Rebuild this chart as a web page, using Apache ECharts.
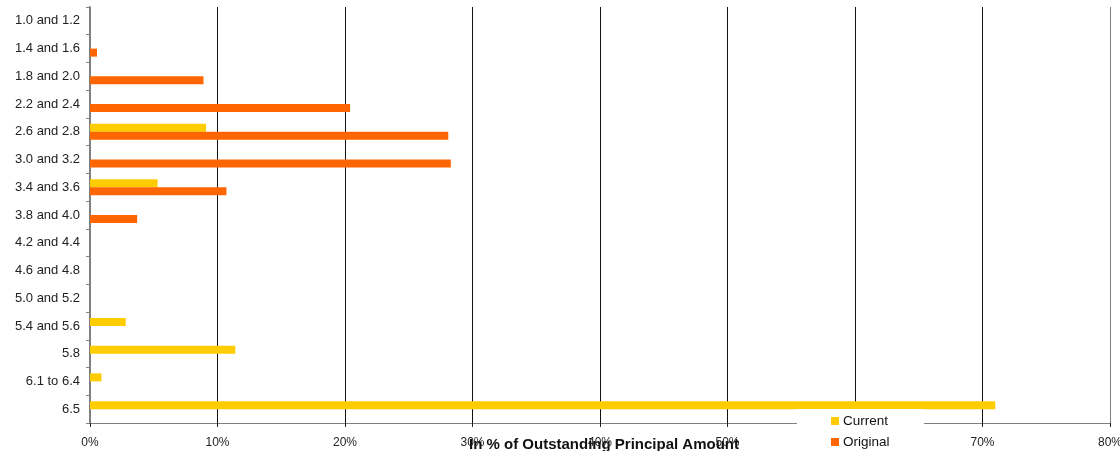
<!DOCTYPE html>
<html>
<head>
<meta charset="utf-8">
<script src="https://cdn.jsdelivr.net/npm/echarts@6/dist/echarts.min.js"></script>
<style>html,body{margin:0;padding:0;background:#fff}#c{width:1120px;height:451px}</style>
</head>
<body>
<div id="c"></div>
<script>
const categories = ['1.0 and 1.2','1.4 and 1.6','1.8 and 2.0','2.2 and 2.4','2.6 and 2.8','3.0 and 3.2','3.4 and 3.6','3.8 and 4.0','4.2 and 4.4','4.6 and 4.8','5.0 and 5.2','5.4 and 5.6','5.8','6.1 to 6.4','6.5'];
const currentValues = [null,null,null,null,9.1,null,5.3,null,null,null,null,2.8,11.4,0.9,71.0];
const originalValues = [null,0.55,8.9,20.4,28.1,28.3,10.7,3.7,null,null,null,null,null,null,null];
const xTicks = [0,10,20,30,40,50,60,70,80];
const seriesNames = ['Current','Original'];
const axisTitle = 'In % of Outstanding Principal Amount';

const chart = echarts.init(document.getElementById('c'));
const FONT = 'Liberation Sans, Arial, sans-serif';
chart.setOption({
  animation: false,
  grid: {left: 90, right: 10, top: 7, bottom: 28, containLabel: false, outerBoundsMode: 'none'},
  xAxis: {
    type: 'value', min: xTicks[0], max: xTicks[xTicks.length-1], interval: 10,
    axisLine: {show: true, lineStyle: {color: '#808080', width: 1}},
    axisTick: {show: true, length: 4, lineStyle: {color: '#222'}},
    axisLabel: {formatter: '{value}%', color: '#222', fontSize: 12, fontFamily: FONT, margin: 14},
    splitLine: {show: true, lineStyle: {color: ['#808080','#111','#111','#111','#111','#111','#111','#111','#808080'], width: 1}},
    name: axisTitle, nameLocation: 'middle', nameGap: 14, nameMoveOverlap: false,
    nameTextStyle: {fontWeight: 'bold', fontSize: 15, color: '#111', fontFamily: FONT, padding: [0,0,0,8]}
  },
  yAxis: {
    type: 'category', data: categories, inverse: true,
    axisLine: {show: true, lineStyle: {color: '#808080', width: 2}},
    axisTick: {show: true, length: 4, lineStyle: {color: '#808080', width: 1}},
    axisLabel: {color: '#222', fontSize: 13, fontFamily: FONT, margin: 10},
    splitLine: {show: false}
  },
  graphic: [{type: 'rect', shape: {x: 797, y: 409, width: 127, height: 42}, style: {fill: '#fff'}, z: 100}],
  legend: {
    data: seriesNames, orient: 'vertical', left: 831, top: 414, height: 40,
    padding: 0,
    itemWidth: 8, itemHeight: 8, itemGap: 7, icon: 'rect',
    textStyle: {fontSize: 13.5, color: '#111', fontFamily: FONT, padding: [0,0,0,-1]},
    z: 110
  },
  series: [
    {name: seriesNames[0], type: 'bar', data: currentValues, barWidth: 8, barGap: '0%', itemStyle: {color: '#FFCC00'}},
    {name: seriesNames[1], type: 'bar', data: originalValues, barWidth: 8, barGap: '0%', itemStyle: {color: '#FF6600'}}
  ]
});
</script>
</body>
</html>
